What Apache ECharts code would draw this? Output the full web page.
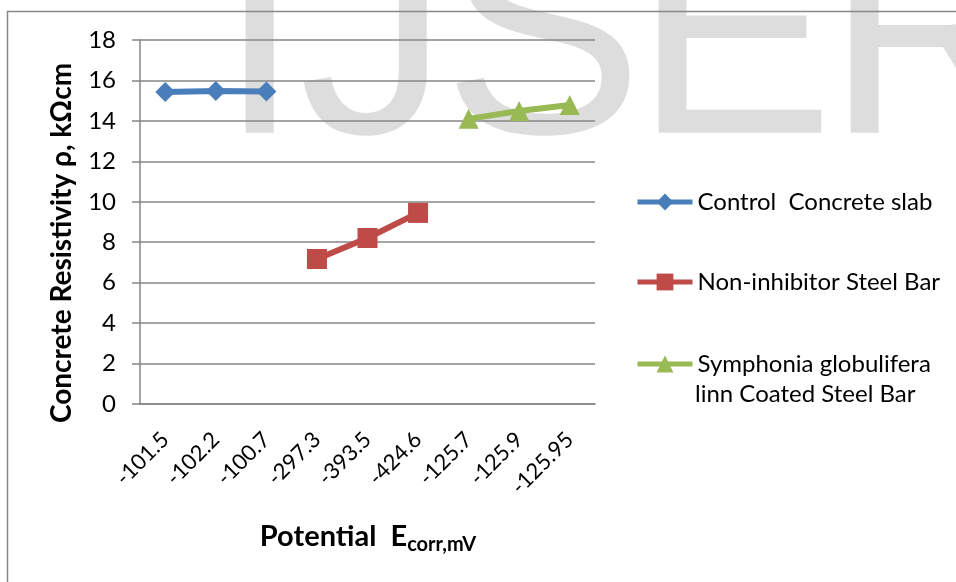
<!DOCTYPE html>
<html>
<head>
<meta charset="utf-8">
<script src="https://cdn.jsdelivr.net/npm/echarts@6/dist/echarts.min.js"></script>
<style>
html,body{margin:0;padding:0;background:#fff;}
#chart{width:956px;height:582px;}
</style>
</head>
<body>
<div id="chart"></div>
<script>
const categories = ['-101.5','-102.2','-100.7','-297.3','-393.5','-424.6','-125.7','-125.9','-125.95'];
const controlSlab = [15.43, 15.48, 15.45, null, null, null, null, null, null];
const nonInhibitor = [null, null, null, 7.17, 8.21, 9.45, null, null, null];
const coatedBar = [null, null, null, null, null, null, 14.10, 14.49, 14.79];
const seriesNames = ['Control  Concrete slab', 'Non-inhibitor Steel Bar', 'Symphonia globulifera linn Coated Steel Bar'];
const yTicks = {min: 0, max: 18, interval: 2};

const FONT = 'Lato';
const GRID_C = '#868686';
const COLORS = ['#4a7ebb', '#be4b48', '#98b954'];

const chart = echarts.init(document.getElementById('chart'), null, {renderer: 'canvas'});

function legendFor(idx, top, label) {
  return {
    orient: 'vertical',
    left: 635,
    top: top,
    padding: 0,
    itemWidth: 55,
    itemHeight: 21,
    itemGap: 0,
    data: [seriesNames[idx]],
    formatter: () => label,
    lineStyle: {width: 5},
    textStyle: {fontFamily: FONT, fontSize: 24, color: '#000'},
    selectedMode: false
  };
}

// watermark letters (background text), left positions of each glyph origin
const wmLetters = [['I', 218], ['J', 299], ['S', 443], ['E', 634], ['R', 826]];

chart.setOption({
  backgroundColor: '#fff',
  animation: false,
  graphic: [
    ...wmLetters.map(([ch, x]) => ({
      type: 'text', z: -100, silent: true,
      style: {text: ch, x: x, y: 50, fontFamily: 'Liberation Sans', fontSize: 300,
              fill: '#dddddd', textAlign: 'left', textVerticalAlign: 'middle'}
    })),
    {type: 'rect', z: -50, silent: true,
     shape: {x: 7.5, y: 11.5, width: 1000, height: 700},
     style: {fill: 'none', stroke: '#888', lineWidth: 1.5}},
    {type: 'text', silent: true, rotation: Math.PI / 2, x: 62, y: 243,
     style: {text: 'Concrete Resistivity ρ, kΩcm', fontFamily: FONT, fontWeight: 'bold', fontSize: 28,
             fill: '#000', textAlign: 'center', textVerticalAlign: 'middle'}},
    {type: 'text', silent: true, x: 368, y: 537,
     style: {text: '{a|Potential  E}{b|corr,mV}', fill: '#000', textAlign: 'center', textVerticalAlign: 'middle',
             rich: {a: {fontFamily: FONT, fontWeight: 'bold', fontSize: 29},
                    b: {fontFamily: FONT, fontWeight: 'bold', fontSize: 20, padding: [16, 0, 0, 0]}}}},
    {type: 'text', silent: true, x: 695, y: 394,
     style: {text: 'linn Coated Steel Bar', fontFamily: FONT, fontSize: 24, fill: '#000',
             textAlign: 'left', textVerticalAlign: 'middle'}}
  ],
  legend: [
    legendFor(0, 190, 'Control  Concrete slab'),
    legendFor(1, 270, 'Non-inhibitor Steel Bar'),
    legendFor(2, 352, 'Symphonia globulifera')
  ],
  grid: {left: 140, right: 361, top: 40, bottom: 178, containLabel: false},
  xAxis: {
    type: 'category',
    data: categories,
    boundaryGap: true,
    axisLine: {lineStyle: {color: GRID_C, width: 1.5}},
    axisTick: {show: false},
    axisLabel: {rotate: 45, interval: 0, margin: 32, fontFamily: FONT, fontSize: 22, color: '#000'}
  },
  yAxis: {
    type: 'value',
    min: yTicks.min, max: yTicks.max, interval: yTicks.interval,
    axisLine: {show: true, lineStyle: {color: GRID_C, width: 1.5}},
    axisTick: {show: true, length: 8, lineStyle: {color: GRID_C, width: 1.5}},
    axisLabel: {margin: 24, fontFamily: FONT, fontSize: 24, color: '#000'},
    splitLine: {lineStyle: {color: GRID_C, width: 1.5}}
  },
  series: [
    {name: seriesNames[0], type: 'line', data: controlSlab, connectNulls: false,
     symbol: 'diamond', symbolSize: 20, color: COLORS[0],
     lineStyle: {width: 6, color: COLORS[0]}, itemStyle: {color: COLORS[0]}},
    {name: seriesNames[1], type: 'line', data: nonInhibitor, connectNulls: false,
     symbol: 'rect', symbolSize: 20, color: COLORS[1],
     lineStyle: {width: 6, color: COLORS[1]}, itemStyle: {color: COLORS[1]}},
    {name: seriesNames[2], type: 'line', data: coatedBar, connectNulls: false,
     symbol: 'triangle', symbolSize: 20, color: COLORS[2],
     lineStyle: {width: 6, color: COLORS[2]}, itemStyle: {color: COLORS[2]}}
  ]
});
</script>
</body>
</html>
